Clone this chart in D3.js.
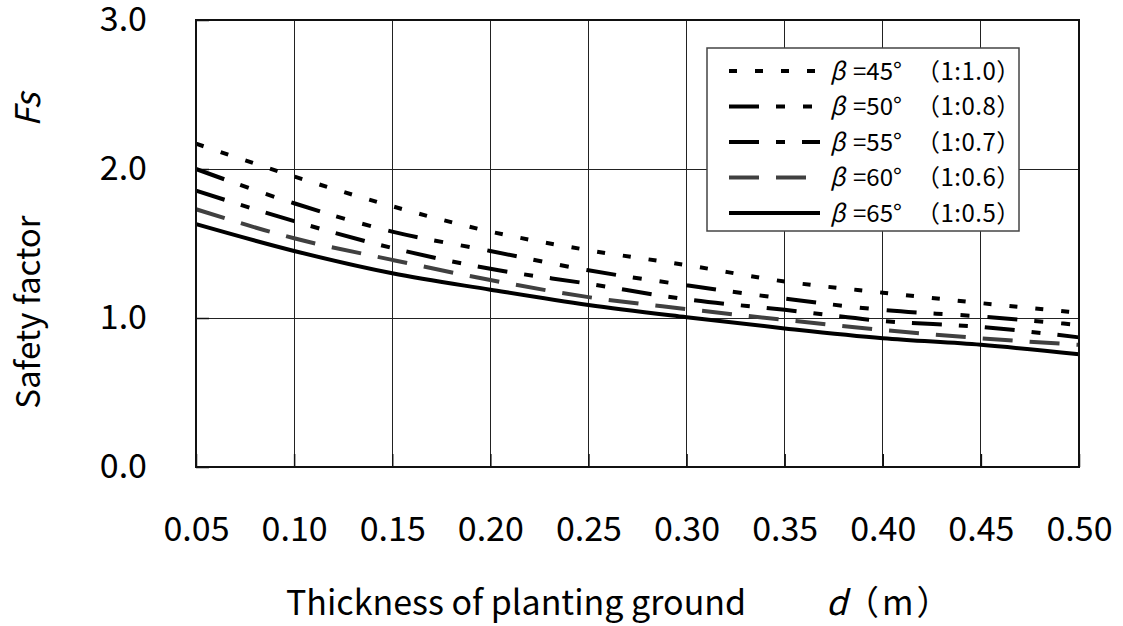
<!DOCTYPE html>
<html>
<head>
<meta charset="utf-8">
<script src="https://cdn.jsdelivr.net/npm/d3@7"></script>
<style>
  html, body { margin: 0; padding: 0; background: #fff; }
  svg { display: block; font-family: "Noto Sans CJK JP", "Noto Sans", sans-serif; }
</style>
</head>
<body>
<svg id="chart" width="1123" height="626"></svg>
<script>
// Thickness of planting ground d (m)
const thickness = [0.05, 0.10, 0.15, 0.20, 0.25, 0.30, 0.35, 0.40, 0.45, 0.50];
const thicknessLabels = ["0.05", "0.10", "0.15", "0.20", "0.25", "0.30", "0.35", "0.40", "0.45", "0.50"];

// Safety factor Fs for each slope angle
const fsBeta45 = [2.17, 1.95, 1.75, 1.58, 1.455, 1.355, 1.245, 1.17, 1.10, 1.035];
const fsBeta50 = [2.00, 1.77, 1.58, 1.45, 1.32, 1.22, 1.13, 1.054, 1.01, 0.953];
const fsBeta55 = [1.855, 1.65, 1.47, 1.33, 1.23, 1.125, 1.055, 0.98, 0.94, 0.87];
const fsBeta60 = [1.73, 1.535, 1.39, 1.255, 1.14, 1.06, 0.987, 0.92, 0.864, 0.82];
const fsBeta65 = [1.63, 1.45, 1.30, 1.19, 1.087, 1.005, 0.93, 0.864, 0.82, 0.756];

const seriesAngles = ["45°", "50°", "55°", "60°", "65°"];
const seriesRatios = ["（1:1.0）", "（1:0.8）", "（1:0.7）", "（1:0.6）", "（1:0.5）"];
const seriesValues = [fsBeta45, fsBeta50, fsBeta55, fsBeta60, fsBeta65];

const yTicks = [0, 1, 2, 3];

// Line styles per series
const styles = [
  { color: "#000", dash: "8,18" },
  { color: "#000", dash: "30,17,9,18,9,18" },
  { color: "#000", dash: "30,17,9,17" },
  { color: "#404040", dash: "30,17" },
  { color: "#000", dash: null }
];

const svg = d3.select("#chart");
const plotLeft = 196, plotRight = 1079, plotTop = 20, plotBottom = 467;

const x = d3.scaleLinear().domain([0.05, 0.50]).range([plotLeft, plotRight]);
const y = d3.scaleLinear().domain([0, 3]).range([plotBottom, plotTop]);

// Grid lines
const grid = svg.append("g").attr("stroke", "#222").attr("stroke-width", 1)
  .attr("shape-rendering", "crispEdges");
grid.selectAll("line.v").data(thickness.slice(1, -1)).join("line")
  .attr("x1", d => x(d)).attr("x2", d => x(d))
  .attr("y1", plotTop).attr("y2", plotBottom);
grid.selectAll("line.h").data(yTicks.slice(1, -1)).join("line")
  .attr("x1", plotLeft).attr("x2", plotRight)
  .attr("y1", d => y(d)).attr("y2", d => y(d));

// Axes with inward ticks
const fontSize = 34;
const xAxis = svg.append("g").attr("transform", `translate(0,${plotBottom})`)
  .call(d3.axisBottom(x).tickValues(thickness)
    .tickFormat((d, i) => thicknessLabels[i])
    .tickSizeInner(-13).tickSizeOuter(0).tickPadding(50));
const yAxis = svg.append("g").attr("transform", `translate(${plotLeft},0)`)
  .call(d3.axisLeft(y).tickValues(yTicks)
    .tickFormat(d3.format(".1f"))
    .tickSizeInner(-13).tickSizeOuter(0).tickPadding(49));
[xAxis, yAxis].forEach(a => {
  a.select(".domain").remove();
  a.selectAll(".tick line").attr("stroke", "#111").attr("stroke-width", 1.5);
  a.selectAll(".tick text").attr("font-size", fontSize).attr("fill", "#000")
    .attr("font-family", "'Noto Sans CJK JP', sans-serif");
});

// Series lines
const line = d3.line()
  .x((d, i) => x(thickness[i]))
  .y(d => y(d))
  .curve(d3.curveMonotoneX);

const plot = svg.append("g");
seriesValues.forEach((vals, k) => {
  plot.append("path")
    .attr("d", line(vals))
    .attr("fill", "none")
    .attr("stroke", styles[k].color)
    .attr("stroke-width", 4)
    .attr("stroke-dasharray", styles[k].dash)
    .attr("stroke-linecap", "butt");
});

// Plot frame
svg.append("rect")
  .attr("x", plotLeft).attr("y", plotTop)
  .attr("width", plotRight - plotLeft).attr("height", plotBottom - plotTop)
  .attr("fill", "none").attr("stroke", "#111").attr("stroke-width", 2);

// Legend
const lg = svg.append("g");
lg.append("rect")
  .attr("x", 707).attr("y", 48).attr("width", 312).attr("height", 183)
  .attr("fill", "#fff").attr("stroke", "#444").attr("stroke-width", 1.5);
const rowY = d3.scaleLinear().domain([0, 4]).range([71, 213]);
seriesAngles.forEach((a, k) => {
  const yy = rowY(k);
  lg.append("line")
    .attr("x1", 729).attr("x2", 820).attr("y1", yy).attr("y2", yy)
    .attr("stroke", styles[k].color).attr("stroke-width", 4)
    .attr("stroke-dasharray", styles[k].dash);
  const t = lg.append("text").attr("y", yy).attr("dy", "0.36em")
    .attr("font-size", 24).attr("fill", "#000");
  t.append("tspan").attr("x", 830).attr("font-style", "italic").text("β");
  t.append("tspan").attr("x", 853).text("=" + a);
  t.append("tspan").attr("x", 916).attr("letter-spacing", 0.5).text(seriesRatios[k]);
});

// Axis titles
const yTitle = svg.append("g").attr("transform", "translate(28,0) rotate(-90)");
yTitle.append("text").attr("x", -312).attr("dy", "0.36em")
  .attr("text-anchor", "middle").attr("font-size", 33).text("Safety factor");
yTitle.append("text").attr("x", -110).attr("dy", "0.36em")
  .attr("text-anchor", "middle").attr("font-size", 34)
  .attr("font-style", "italic").text("Fs");

const xTitle = svg.append("text").attr("y", 615).attr("font-size", fontSize);
xTitle.append("tspan").attr("x", 286).text("Thickness of planting ground");
xTitle.append("tspan").attr("x", 826).attr("font-style", "italic").text("d");
xTitle.append("tspan").attr("x", 845).attr("letter-spacing", 3).text("（m）");
</script>
</body>
</html>
